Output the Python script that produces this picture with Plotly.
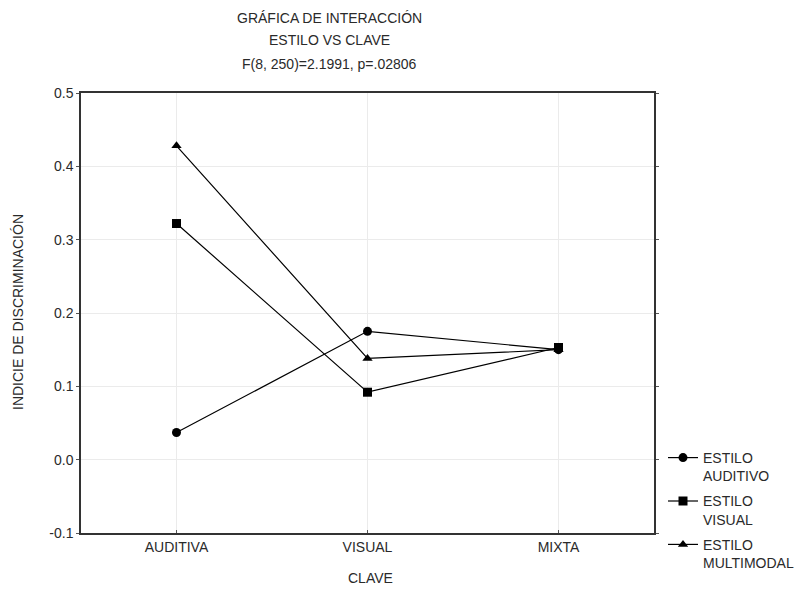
import plotly.graph_objects as go

categories = ["AUDITIVA", "VISUAL", "MIXTA"]
series_names = ["ESTILO<br>AUDITIVO", "ESTILO<br>VISUAL", "ESTILO<br>MULTIMODAL"]
auditivo = [0.037, 0.175, 0.150]
visual = [0.322, 0.092, 0.153]
multimodal = [0.428, 0.138, 0.150]
y_ticks = [-0.1, 0.0, 0.1, 0.2, 0.3, 0.4, 0.5]
title_lines = ["GRÁFICA DE INTERACCIÓN", "ESTILO VS CLAVE", "F(8, 250)=2.1991, p=.02806"]

symbols = ["circle", "square", "triangle-up"]
values = [auditivo, visual, multimodal]

FAM = "Liberation Sans, Arial, sans-serif"
TXT = "#2a2a2a"

L, R, T, B = 73, 161, 85, 71
W, H = 807, 596
pw, ph = W - L - R, H - T - B

def px(fx):
    return (fx - L) / pw

def py(fy):
    return (H - B - fy) / ph

fig = go.Figure()
for i, (name, vals, sym) in enumerate(zip(series_names, values, symbols)):
    fig.add_trace(go.Scatter(
        x=list(range(len(categories))), y=vals, name=name,
        mode="lines+markers", legendgroup=f"g{i}",
        line=dict(color="black", width=1.2),
        marker=dict(symbol=sym, size=9, color="black"),
    ))

annotations = []
for line, fy in zip(title_lines, [10, 32, 56]):
    annotations.append(dict(text=line, xref="paper", yref="paper",
                            x=px(321), y=py(fy), xanchor="center", yanchor="middle",
                            showarrow=False, font=dict(family=FAM, size=14, color=TXT)))
annotations.append(dict(text="CLAVE", xref="paper", yref="paper",
                        x=px(362), y=py(570), xanchor="center", yanchor="middle",
                        showarrow=False, font=dict(family=FAM, size=14, color=TXT)))
annotations.append(dict(text="INDICIE DE DISCRIMINACIÓN", xref="paper", yref="paper",
                        x=px(10), y=py(304), xanchor="center", yanchor="middle",
                        textangle=-90, showarrow=False,
                        font=dict(family=FAM, size=14, color=TXT)))

fig.update_layout(
    width=W, height=H,
    margin=dict(l=L, r=R, t=T, b=B),
    paper_bgcolor="white", plot_bgcolor="white",
    font=dict(family=FAM, size=14, color=TXT),
    showlegend=True,
    legend=dict(x=px(655), y=py(434), xanchor="left", yanchor="top",
                valign="top", bgcolor="rgba(0,0,0,0)",
                font=dict(family=FAM, size=14, color=TXT),
                tracegroupgap=4),
    xaxis=dict(
        range=[-0.5, 2.5], tickmode="array",
        tickvals=list(range(len(categories))), ticktext=categories,
        showline=True, linecolor="#333333", linewidth=1.5, mirror=True,
        ticks="inside", ticklen=3, tickcolor="#555555",
        showgrid=True, gridcolor="#ebebeb", gridwidth=1,
        zeroline=False, tickfont=dict(size=14),
    ),
    yaxis=dict(
        range=[-0.1, 0.5], tickmode="array", tickvals=y_ticks,
        ticktext=[f"{v:.1f}" for v in y_ticks],
        showline=True, linecolor="#333333", linewidth=1.5, mirror="ticks",
        ticks="outside", ticklen=3, tickcolor="#555555",
        showgrid=True, gridcolor="#ebebeb", gridwidth=1,
        zeroline=False, tickfont=dict(size=14),
    ),
    annotations=annotations,
)

fig.write_html("out.html")
